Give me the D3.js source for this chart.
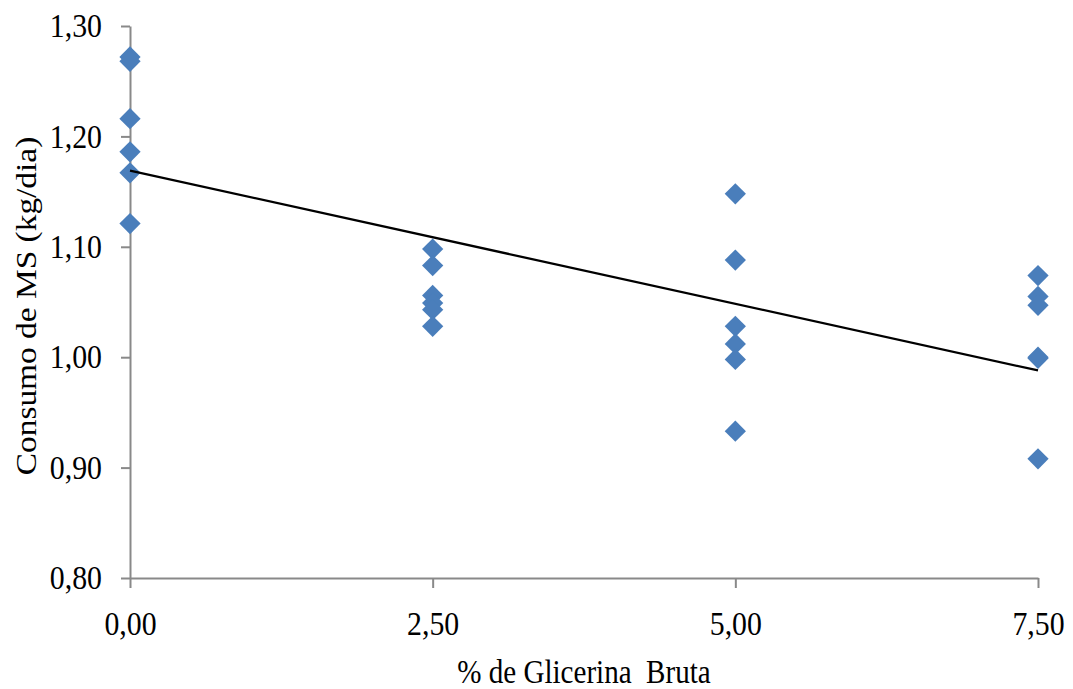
<!DOCTYPE html>
<html><head><meta charset="utf-8">
<script src="https://cdn.jsdelivr.net/npm/d3@7"></script>
<style>
body{margin:0;background:#fff;}
text{font-family:"Liberation Serif","Times New Roman",serif;fill:#000;}
</style></head>
<body><svg id="c" width="1073" height="689"></svg>
<script>
const xTicks = [0, 2.5, 5, 7.5];
const yTicks = [0.8, 0.9, 1.0, 1.1, 1.2, 1.3];
const dose = [0,0,0,0,0,0, 2.5,2.5,2.5,2.5,2.5,2.5, 5,5,5,5,5,5, 7.5,7.5,7.5,7.5,7.5,7.5];
const consumo = [1.272,1.268,1.216,1.186,1.167,1.121,
                 1.098,1.083,1.056,1.049,1.043,1.028,
                 1.148,1.088,1.028,1.012,0.998,0.933,
                 1.074,1.055,1.047,1.000,0.999,0.908];
const trendX = [0, 7.5];
const trendY = [1.169, 0.988];
const xTitle = "% de Glicerina  Bruta";
const yTitle = "Consumo de MS (kg/dia)";

const svg = d3.select("#c");
const x = d3.scaleLinear().domain([0, 7.5]).range([130, 1038]);
const y = d3.scaleLinear().domain([0.8, 1.3]).range([578, 26]);
const fmt = d => d.toFixed(2).replace(".", ",");
const axisColor = "#898989";
const sx = 0.89;

const gx = svg.append("g").attr("transform", "translate(0,578)")
  .call(d3.axisBottom(x).tickValues(xTicks).tickFormat(fmt).tickSize(10).tickPadding(23).tickSizeOuter(0));
const gy = svg.append("g").attr("transform", "translate(130,0)")
  .call(d3.axisLeft(y).tickValues(yTicks).tickFormat(fmt).tickSize(9).tickPadding(19).tickSizeOuter(0));
[gx, gy].forEach(g => {
  g.select(".domain").attr("stroke", axisColor).attr("stroke-width", 2);
  g.selectAll(".tick line").attr("stroke", axisColor).attr("stroke-width", 2);
  g.selectAll("text").style("font-size", "33.5px").style("font-family", '"Liberation Serif",serif').attr("fill", "#000");
});
gx.selectAll(".tick text").attr("transform", `scale(${sx},1)`);
gy.selectAll(".tick text").each(function () {
  const t = d3.select(this), tx = +t.attr("x");
  t.attr("x", 0).attr("transform", `translate(${tx},0) scale(${sx},1)`);
});

// points
const diamond = d3.symbol().type(d3.symbolDiamond2).size(288);
svg.append("g").selectAll("path").data(dose.map((d, i) => [d, consumo[i]]))
  .join("path")
  .attr("d", diamond)
  .attr("transform", d => `translate(${x(d[0])},${y(d[1])})`)
  .attr("fill", "#4a7ebb");

// trend line
svg.append("path")
  .datum(trendX.map((d, i) => [d, trendY[i]]))
  .attr("d", d3.line().x(d => x(d[0])).y(d => y(d[1])))
  .attr("stroke", "#000").attr("stroke-width", 2.2).attr("fill", "none");

svg.append("text").attr("transform", `translate(584,683) scale(0.87,1)`).attr("text-anchor", "middle")
  .style("font-size", "33.4px").style("white-space", "pre").text(xTitle);
svg.append("text").attr("transform", "translate(36,306) scale(0.87,1) rotate(-90)").attr("text-anchor", "middle")
  .style("font-size", "33.4px").text(yTitle);
</script></body></html>
